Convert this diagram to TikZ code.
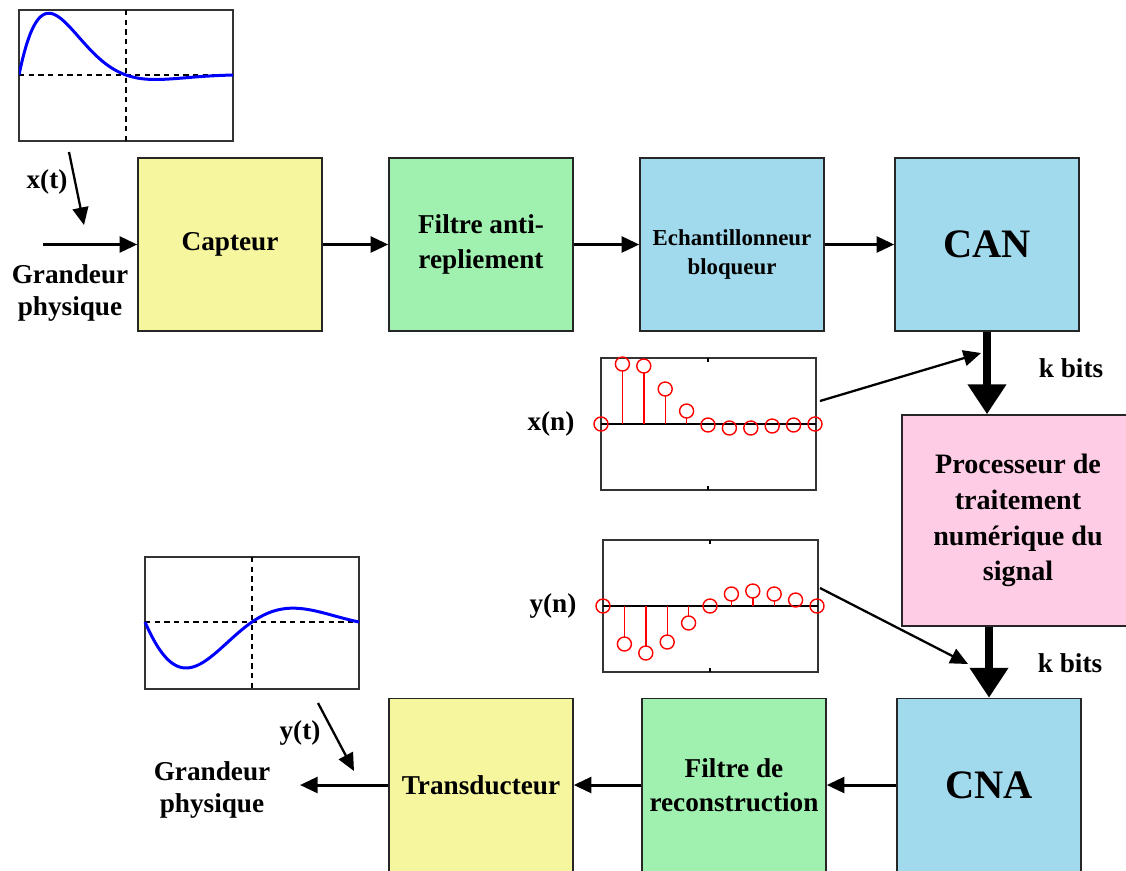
\documentclass[tikz,border=0pt]{standalone}
\usepackage{fontspec}
\setmainfont{Liberation Serif}
\usetikzlibrary{arrows.meta,positioning}
\definecolor{paille}{RGB}{246,246,158}
\definecolor{menthe}{RGB}{160,240,176}
\definecolor{ciel}{RGB}{160,218,236}
\definecolor{rose}{RGB}{255,204,230}
\tikzset{
  bloc/.style={draw=black!85,fill=#1,line width=0.9pt,minimum width=3.68cm,minimum height=3.46cm,
    align=center,font=\fontsize{15.5}{19.5}\selectfont\bfseries,inner sep=2pt},
  bloc/.default=ciel,
  gros/.style={font=\fontsize{23}{26}\selectfont\bfseries},
  flow/.style={-{Triangle[length=10pt,width=9pt]},line width=1.7pt},
  bus/.style={-{Triangle[length=17pt,width=21pt]},line width=5pt},
  fine/.style={-{Triangle[length=10pt,width=9pt]},line width=1.3pt},
  etiq/.style={font=\fontsize{15.5}{18.5}\selectfont\bfseries,align=center},
  cadre/.style={draw=black!80,line width=1pt},
  repere/.style={dash pattern=on 3pt off 2.5pt,line width=0.6pt},
  courbe/.style={blue,line width=1.7pt},
  echant/.style={red,line width=0.8pt},
}
\begin{document}
\begin{tikzpicture}[x=0.02cm,y=-0.02cm]
\useasboundingbox (0,0) rectangle (1126,870);
% chaine d'acquisition
\node[bloc=paille] (capt) at (230,244.5) {Capteur};
\node[bloc=menthe] (filt) at (481,244.5) {Filtre anti-\\repliement};
\node[bloc,font=\fontsize{13}{16.4}\selectfont\bfseries,text height=37pt,text depth=3pt] (ech) at (732,244.5) {Echantillonneur\\bloqueur};
\node[bloc,gros] (can) at (987,244.5) {CAN};
\node[bloc=rose,minimum width=4.64cm,minimum height=4.22cm,font=\fontsize{16}{20.4}\selectfont\bfseries] (proc) at (1018,520.5) {Processeur de\\traitement\\num\'erique du\\signal};
% chaine de restitution
\node[bloc,gros] (cna) at (989,785) {CNA};
\node[bloc=menthe] (rec) at (734,785) {Filtre de\\reconstruction};
\node[bloc=paille] (trans) at (481,785) {Transducteur};

\coordinate (in) at (43,244.5);
\coordinate (out) at (300,785);
\draw[flow] (in) -- (capt);
\draw[flow] (capt) -- (filt);
\draw[flow] (filt) -- (ech);
\draw[flow] (ech) -- (can);
\draw[bus] (can) -- (can.south |- proc.north);
\draw[bus] (cna.north |- proc.south) -- (cna);
\draw[flow] (cna) -- (rec);
\draw[flow] (rec) -- (trans);
\draw[flow] (trans) -- (out);

\node[etiq] (gp1) at (70,293) {Grandeur\\physique};
\node[etiq] (gp2) at (212,790) {Grandeur\\physique};
\node[etiq] (kb1) at (1071,368) {k bits};
\node[etiq] (kb2) at (1070,663) {k bits};

% signal x(t)
\draw[cadre] (19,10) rectangle (233,141);
\draw[repere] (19,75) -- (233,75) (126,10) -- (126,141);
\begin{scope}
  \clip (19,10) rectangle (233,141);
  \draw[courbe] plot[domain=0:214,samples=120] ({19+\x},{75-167*exp(-0.0245*\x)*sin(deg(0.02936*\x))});
\end{scope}
\node[etiq] (lxt) at (47,182) {x(t)};
\coordinate (xt1) at (69,152);
\coordinate (xt2) at (84,225);
\draw[fine] (xt1) -- (xt2);

% signal y(t)
\draw[cadre] (145,557) rectangle (359,689);
\draw[repere] (145,622) -- (359,622) (252,557) -- (252,689);
\draw[courbe] plot[domain=0:214,samples=120] ({145+\x},{622+78*exp(-0.01121*\x)*sin(deg(0.02936*\x))});
\node[etiq] (lyt) at (300,733) {y(t)};
\coordinate (yt1) at (318,703);
\coordinate (yt2) at (354,771);
\draw[fine] (yt1) -- (yt2);

% echantillons x(n)
\draw[cadre] (601,358) rectangle (816,490);
\draw[line width=0.9pt] (601,424) -- (816,424);
\draw[line width=0.8pt] (708,358) -- (708,362) (708,490) -- (708,486);
\foreach \v [count=\i from 0] in {0,60,58,35,13,-1,-4,-4,-2,-1,0} {
  \pgfmathsetmacro\px{601+21.4*\i}
  \pgfmathsetmacro\ys{424-(abs(\v)>7 ? \v-7*sign(\v) : 0)}
  \pgfmathsetmacro\yc{424-(\v)}
  \draw[echant] (\px,424) -- (\px,\ys);
  \draw[echant] (\px,\yc) circle (0.14cm);
}
\node[etiq] (lxn) at (551,424) {x(n)};
\coordinate (xn1) at (820,401);
\coordinate (xn2) at (981,353);
\draw[fine] (xn1) -- (xn2);

% echantillons y(n)
\draw[cadre] (603,540) rectangle (818,672);
\draw[line width=0.9pt] (603,606) -- (818,606);
\draw[line width=0.8pt] (710,540) -- (710,544) (710,672) -- (710,668);
\foreach \v [count=\i from 0] in {0,-38,-47,-36,-17,0,12,15,12,6,0} {
  \pgfmathsetmacro\px{603+21.4*\i}
  \pgfmathsetmacro\ys{606-(abs(\v)>7 ? \v-7*sign(\v) : 0)}
  \pgfmathsetmacro\yc{606-(\v)}
  \draw[echant] (\px,606) -- (\px,\ys);
  \draw[echant] (\px,\yc) circle (0.14cm);
}
\node[etiq] (lyn) at (553,606) {y(n)};
\coordinate (yn1) at (820,588);
\coordinate (yn2) at (968,664);
\draw[fine] (yn1) -- (yn2);
\end{tikzpicture}
\end{document}
